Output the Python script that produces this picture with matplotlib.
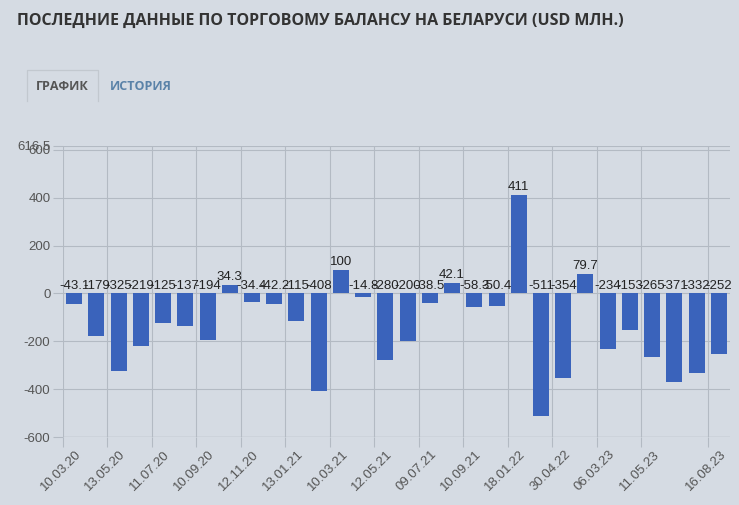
import matplotlib
matplotlib.use("Agg")
import matplotlib.pyplot as plt
from matplotlib.lines import Line2D
from matplotlib.transforms import ScaledTranslation

values = [-43.1, -179, -325, -219, -125, -137, -194, 34.3, -34.4, -42.2,
          -115, -408, 100, -14.8, -280, -200, -38.5, 42.1, -58.3, -50.4,
          411, -511, -354, 79.7, -234, -153, -265, -371, -332, -252]
labels = ["-43.1", "-179", "-325", "-219", "-125", "-137", "-194", "34.3", "-34.4", "-42.2",
          "-115", "-408", "100", "-14.8", "-280", "-200", "-38.5", "42.1", "-58.3", "-50.4",
          "411", "-511", "-354", "79.7", "-234", "-153", "-265", "-371", "-332", "-252"]
tick_idx = [0, 2, 4, 6, 8, 10, 12, 14, 16, 18, 20, 22, 24, 26, 29]
tick_labels = ["10.03.20", "13.05.20", "11.07.20", "10.09.20", "12.11.20", "13.01.21",
               "10.03.21", "12.05.21", "09.07.21", "10.09.21", "18.01.22", "30.04.22",
               "06.03.23", "11.05.23", "16.08.23"]
y_ticks = [-600, -400, -200, 0, 200, 400, 600]
y_max = 616.5
y_min = -600

bg = "#d5dbe3"
bar_color = "#3a63bb"
grid_c = "#b3bac3"

fig = plt.figure(figsize=(7.39, 5.05), dpi=100, facecolor=bg)
ax = fig.add_axes([63/739, 1-437/505, (730-63)/739, (437-146)/505])
ax.set_facecolor(bg)

x = list(range(len(values)))
ax.bar(x, values, width=0.72, color=bar_color, zorder=3)
ax.set_xlim(-0.5, len(values)-0.5)
ax.set_ylim(y_min, y_max)

for xi, v, lab in zip(x, values, labels):
    ypos = max(v, 0)
    ax.text(xi, ypos + 8, lab, ha="center", va="bottom", fontsize=9.5,
            color="#222222", family="Liberation Sans", zorder=4)

ax.set_yticks(y_ticks + [y_max])
ax.set_yticklabels([str(t) for t in y_ticks] + ["616.5"])
ax.set_xticks([i - 0.5 for i in tick_idx])
ax.set_xticklabels(tick_labels, rotation=45, ha="right", rotation_mode="anchor")
for t in ax.get_xticklabels() + ax.get_yticklabels():
    t.set_family("Liberation Sans")
ax.tick_params(axis="both", length=7, color=grid_c, width=0.8, labelcolor="#555555", labelsize=9.5)
ax.tick_params(axis="x", pad=4)
ax.tick_params(axis="y", pad=2)
off = ScaledTranslation(12/100, 4/100, fig.dpi_scale_trans)
for t in ax.get_xticklabels():
    t.set_transform(t.get_transform() + off)
ax.grid(True, color=grid_c, linewidth=0.8, zorder=0)
for s in ax.spines.values():
    s.set_visible(False)
ax.axhline(y_min, color="#a6aeb8", linewidth=0.9, zorder=1)

fig.text(17/739, 1-21/505, "ПОСЛЕДНИЕ ДАННЫЕ ПО ТОРГОВОМУ БАЛАНСУ НА БЕЛАРУСИ (USD МЛН.)",
         fontsize=11.5, fontweight="bold", color="#333333", family="Open Sans",
         va="center", ha="left")

# tab border (top, left, right)
x0, x1 = 27/739, 98/739
y0, y1 = 1-101/505, 1-70/505
fig.add_artist(Line2D([x0, x0, x1, x1], [y0, y1, y1, y0], transform=fig.transFigure,
                      color="#c2c8cf", linewidth=0.9))
fig.text(62.5/739, 1-87/505, "ГРАФИК", fontsize=9, fontweight="bold", color="#555555",
         family="Open Sans", ha="center", va="center")
fig.text(110/739, 1-87/505, "ИСТОРИЯ", fontsize=9, fontweight="bold", color="#5a82a8",
         family="Open Sans", ha="left", va="center")

fig.savefig("out.png", dpi=100, facecolor=bg)
